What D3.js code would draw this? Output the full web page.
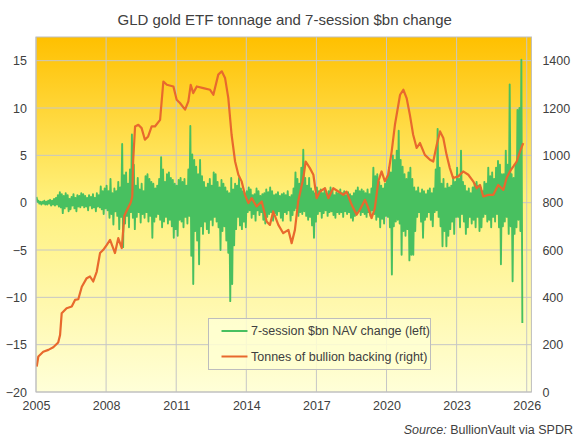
<!DOCTYPE html>
<html>
<head>
<meta charset="utf-8">
<script src="https://cdn.jsdelivr.net/npm/d3@7"></script>
<style>
  body { margin: 0; background: #fff; }
  text { font-family: "Liberation Sans", Arial, sans-serif; fill: #404040; }
</style>
</head>
<body>
<div id="chart"></div>
<script>
// Tonnes of gold backing GLD (right axis)
const tonnesDates = [
  2005.03, 2005.10, 2005.31, 2005.53, 2005.74, 2005.95, 2006.03, 2006.10, 2006.31, 2006.53,
  2006.67, 2006.81, 2006.96, 2007.17, 2007.31, 2007.45, 2007.60, 2007.74, 2007.88, 2008.03,
  2008.17, 2008.38, 2008.52, 2008.67, 2008.78, 2008.90, 2009.05, 2009.12, 2009.16, 2009.24,
  2009.38, 2009.52, 2009.66, 2009.80, 2009.95, 2010.09, 2010.31, 2010.45, 2010.60, 2010.88,
  2011.02, 2011.16, 2011.38, 2011.52, 2011.62, 2011.73, 2011.88, 2012.16, 2012.45, 2012.59,
  2012.80, 2012.95, 2013.09, 2013.23, 2013.37, 2013.52, 2013.66, 2013.80, 2013.94, 2014.09,
  2014.23, 2014.44, 2014.66, 2014.87, 2015.01, 2015.15, 2015.37, 2015.58, 2015.80, 2015.94,
  2016.08, 2016.22, 2016.44, 2016.54, 2016.72, 2016.87, 2017.01, 2017.15, 2017.37, 2017.51,
  2017.72, 2017.94, 2018.15, 2018.29, 2018.51, 2018.72, 2018.86, 2019.08, 2019.22, 2019.36,
  2019.50, 2019.65, 2019.79, 2019.93, 2020.07, 2020.22, 2020.36, 2020.58, 2020.72, 2020.86,
  2021.00, 2021.14, 2021.29, 2021.43, 2021.64, 2021.86, 2022.00, 2022.15, 2022.29, 2022.43,
  2022.57, 2022.71, 2022.85, 2023.07, 2023.28, 2023.50, 2023.71, 2023.86, 2024.00, 2024.14,
  2024.36, 2024.57, 2024.78, 2025.00, 2025.14, 2025.28, 2025.43, 2025.57, 2025.71, 2025.85
];
const tonnesValues = [
  107, 150, 170, 178, 189, 209, 241, 333, 354, 361,
  389, 392, 445, 481, 488, 467, 509, 587, 601, 622,
  643, 587, 650, 608, 745, 770, 800, 826, 981, 1122,
  1129, 1115, 1066, 1080, 1122, 1122, 1150, 1312, 1298, 1291,
  1235, 1221, 1193, 1228, 1298, 1263, 1291, 1284, 1277, 1256,
  1341, 1355, 1327, 1242, 1087, 974, 918, 890, 833, 798,
  819, 784, 805, 720, 706, 763, 706, 671, 685, 629,
  685, 805, 904, 974, 946, 918, 819, 847, 861, 819,
  861, 847, 833, 847, 791, 749, 770, 812, 777, 735,
  777, 890, 932, 890, 918, 1016, 1129, 1256, 1277, 1242,
  1171, 1087, 1031, 1052, 1002, 981, 974, 1045, 1101, 1073,
  1002, 946, 904, 911, 932, 918, 890, 861, 875, 826,
  833, 833, 875, 854, 904, 932, 953, 974, 1016, 1052
];

// 7-session $bn NAV change (left axis): monthly highs and lows
const navYears = [2005, 2006, 2007, 2008, 2009, 2010, 2011, 2012, 2013, 2014, 2015,
                  2016, 2017, 2018, 2019, 2020, 2021, 2022, 2023, 2024, 2025];
const navHigh = [
  [0.6, 0.2, 0.1, 0.1, 0.2, 0.1, 0.2, 0.3, 0.2, 0.4, 0.5, 0.8],
  [1.1, 0.9, 0.7, 1.0, 0.8, 0.4, 0.6, 0.9, 0.5, 0.8, 0.7, 1.0],
  [0.9, 0.7, 0.5, 0.8, 0.6, 0.9, 0.5, 1.0, 0.8, 1.7, 1.2, 1.5],
  [1.8, 1.2, 2.5, 1.0, 1.5, 1.2, 2.2, 1.6, 6.2, 2.9, 3.2, 2.0],
  [3.5, 7.2, 4.0, 1.8, 2.6, 1.4, 2.0, 1.2, 2.8, 3.0, 2.5, 2.2],
  [2.0, 1.5, 1.8, 2.5, 4.8, 3.5, 2.2, 3.0, 3.2, 2.6, 2.4, 2.0],
  [1.8, 2.4, 2.6, 2.2, 2.5, 1.8, 3.5, 8.1, 5.1, 4.5, 3.8, 3.0],
  [4.5, 2.8, 2.2, 1.6, 2.0, 2.5, 1.8, 3.2, 3.0, 2.2, 1.6, 2.4],
  [2.0, 1.6, 1.2, 1.0, 2.6, 1.4, 2.0, 1.8, 2.6, 1.5, 1.2, 1.0],
  [1.2, 1.6, 1.4, 0.8, 0.9, 1.5, 1.2, 0.7, 0.9, 1.0, 1.4, 1.1],
  [1.6, 1.2, 0.8, 0.9, 1.1, 0.7, 0.9, 1.0, 0.8, 1.2, 0.6, 0.8],
  [1.5, 3.2, 2.5, 2.0, 3.7, 5.6, 2.6, 1.8, 2.6, 1.5, 1.2, 1.0],
  [1.6, 1.2, 1.4, 1.0, 1.5, 0.9, 1.2, 1.6, 1.3, 0.8, 1.1, 1.0],
  [1.4, 1.0, 1.2, 0.8, 1.1, 0.9, 0.7, 1.0, 1.3, 1.6, 1.2, 1.4],
  [1.2, 1.0, 1.4, 0.9, 1.5, 3.7, 2.8, 3.0, 2.2, 1.8, 1.5, 2.0],
  [2.5, 3.7, 3.2, 5.0, 4.5, 5.5, 7.6, 4.5, 3.8, 3.0, 2.5, 3.2],
  [3.7, 2.5, 1.6, 1.2, 1.6, 1.0, 1.4, 1.2, 0.9, 1.3, 1.5, 1.0],
  [1.5, 3.5, 7.8, 3.7, 2.0, 2.5, 1.5, 2.0, 1.6, 1.8, 2.6, 2.2],
  [3.7, 2.5, 5.5, 2.2, 1.8, 1.2, 1.5, 1.0, 1.6, 2.0, 2.2, 1.8],
  [1.6, 1.2, 2.2, 2.0, 3.7, 2.8, 3.2, 2.5, 3.7, 4.4, 4.0, 3.0],
  [3.0, 5.5, 4.0, 12.5, 3.0, 2.6, 4.0, 9.8, 10.0, 15.1]
];
const navLow = [
  [0.1, -0.1, -0.2, -0.1, -0.2, -0.2, -0.1, -0.3, -0.2, -0.3, -0.2, -0.4],
  [-0.5, -1.1, -0.6, -0.4, -0.9, -0.7, -0.3, -0.6, -0.9, -0.4, -0.5, -0.3],
  [-0.5, -0.4, -0.8, -0.3, -0.6, -0.5, -0.9, -0.4, -0.5, -0.7, -1.2, -0.6],
  [-0.8, -1.6, -1.2, -2.3, -0.9, -1.4, -2.8, -1.5, -4.7, -2.2, -1.4, -2.6],
  [-1.0, -1.6, -2.8, -1.5, -1.0, -2.1, -1.2, -1.6, -1.0, -2.0, -1.4, -3.7],
  [-2.0, -1.5, -1.2, -1.8, -2.6, -2.0, -1.5, -2.2, -1.8, -2.5, -3.7, -2.8],
  [-3.5, -1.8, -2.0, -2.6, -1.5, -2.2, -1.4, -5.6, -8.6, -3.0, -4.0, -6.5],
  [-2.5, -3.3, -2.0, -2.8, -3.2, -1.8, -2.4, -1.5, -2.0, -2.6, -5.0, -3.0],
  [-2.5, -4.0, -5.3, -10.4, -8.6, -4.5, -2.8, -1.5, -2.4, -2.8, -2.0, -2.6],
  [-1.0, -0.8, -1.6, -1.2, -1.9, -0.8, -1.3, -1.0, -1.8, -2.2, -1.5, -1.2],
  [-1.0, -1.9, -1.1, -1.3, -0.9, -1.6, -1.9, -1.0, -1.2, -0.8, -1.9, -1.3],
  [-0.8, -0.6, -1.4, -1.0, -1.2, -0.9, -1.4, -1.8, -1.5, -2.4, -3.7, -2.0],
  [-1.2, -0.9, -1.6, -1.1, -0.8, -1.4, -1.0, -0.9, -1.3, -1.6, -1.0, -1.2],
  [-1.0, -1.5, -0.9, -1.2, -1.0, -1.6, -1.9, -1.4, -1.1, -0.9, -1.3, -1.0],
  [-1.2, -1.5, -1.0, -1.4, -0.8, -1.2, -1.8, -1.5, -2.6, -1.7, -2.2, -1.4],
  [-1.5, -2.6, -7.6, -2.5, -2.0, -1.8, -2.2, -5.5, -3.0, -3.5, -2.8, -6.1],
  [-5.5, -5.5, -3.0, -1.5, -1.0, -2.0, -3.7, -1.8, -1.5, -1.0, -1.8, -2.5],
  [-1.0, -0.8, -1.5, -2.5, -4.6, -3.0, -4.6, -3.5, -2.8, -2.0, -3.3, -1.5],
  [-1.5, -2.6, -1.2, -2.0, -3.3, -2.6, -1.5, -2.2, -1.8, -2.6, -1.5, -3.0],
  [-2.6, -1.5, -1.2, -2.0, -1.8, -2.6, -1.5, -2.0, -1.2, -2.6, -6.5, -2.5],
  [-2.0, -1.5, -3.3, -2.5, -8.3, -3.3, -2.6, -1.8, -3.0, -12.7]
];

// Axis ticks
const xTicks = [2005, 2008, 2011, 2014, 2017, 2020, 2023, 2026];
const leftTicks = [-20, -15, -10, -5, 0, 5, 10, 15];
const rightTicks = [0, 200, 400, 600, 800, 1000, 1200, 1400];

const drawChart = () => {

  /****************************/
  /*        Dimensions        */
  /****************************/
  const width = 578;
  const height = 440;
  const margin = {top: 37, right: 46.6, bottom: 48, left: 36};
  const innerWidth = width - margin.left - margin.right;
  const innerHeight = height - margin.top - margin.bottom;

  const svg = d3.select("#chart")
    .append("svg")
      .attr("width", width)
      .attr("height", height);

  // Background gradient of the plot area
  const defs = svg.append("defs");
  const grad = defs.append("linearGradient")
      .attr("id", "bg")
      .attr("x1", 0).attr("y1", 0).attr("x2", 0).attr("y2", 1);
  grad.append("stop").attr("offset", "0%").attr("stop-color", "#FFC000");
  grad.append("stop").attr("offset", "45%").attr("stop-color", "#FFF07A");
  grad.append("stop").attr("offset", "100%").attr("stop-color", "#FFFFD8");

  defs.append("clipPath").attr("id", "clip")
    .append("rect").attr("width", innerWidth).attr("height", innerHeight);

  // Title
  svg.append("text")
      .attr("x", margin.left + innerWidth / 2 + 1)
      .attr("y", 25)
      .attr("text-anchor", "middle")
      .style("font-size", "15px")
      .text("GLD gold ETF tonnage and 7-session $bn change");

  const innerChart = svg.append("g")
      .attr("transform", `translate(${margin.left}, ${margin.top})`);

  innerChart.append("rect")
      .attr("width", innerWidth)
      .attr("height", innerHeight)
      .attr("fill", "url(#bg)");

  /****************************/
  /*          Scales          */
  /****************************/
  const xScale = d3.scaleLinear()
    .domain([2005, 2026.2])
    .range([0, innerWidth]);
  const yLeft = d3.scaleLinear()
    .domain([-20, 17.5])
    .range([innerHeight, 0]);
  const yRight = d3.scaleLinear()
    .domain([0, 1500])
    .range([innerHeight, 0]);

  /****************************/
  /*        Grid lines        */
  /****************************/
  const gridColour = "#C6C6C6";
  innerChart.append("g")
    .selectAll("line")
    .data(leftTicks)
    .join("line")
      .attr("x1", 0)
      .attr("x2", innerWidth)
      .attr("y1", d => yLeft(d))
      .attr("y2", d => yLeft(d))
      .attr("stroke", gridColour);
  innerChart.append("g")
    .selectAll("line")
    .data(xTicks)
    .join("line")
      .attr("x1", d => xScale(d))
      .attr("x2", d => xScale(d))
      .attr("y1", 0)
      .attr("y2", innerHeight)
      .attr("stroke", gridColour);

  /****************************/
  /*          Series          */
  /****************************/
  const navData = [];
  navYears.forEach((yr, i) => {
    navHigh[i].forEach((hi, m) => {
      navData.push({t: yr + (m + 0.25) / 12, v: hi});
      navData.push({t: yr + (m + 0.75) / 12, v: navLow[i][m]});
    });
  });
  const tonnesData = tonnesDates.map((t, i) => ({t: t, v: tonnesValues[i]}));

  const plot = innerChart.append("g").attr("clip-path", "url(#clip)");

  const navLine = d3.line()
    .x(d => xScale(d.t))
    .y(d => yLeft(d.v));
  plot.append("path")
      .datum(navData)
      .attr("d", navLine)
      .attr("fill", "none")
      .attr("stroke", "#48C060")
      .attr("stroke-width", 1.9)
      .attr("stroke-linejoin", "round");

  const tonnesLine = d3.line()
    .x(d => xScale(d.t))
    .y(d => yRight(d.v));
  plot.append("path")
      .datum(tonnesData)
      .attr("d", tonnesLine)
      .attr("fill", "none")
      .attr("stroke", "#E8692D")
      .attr("stroke-width", 2.2)
      .attr("stroke-linejoin", "round");

  // Plot border
  innerChart.append("rect")
      .attr("width", innerWidth)
      .attr("height", innerHeight)
      .attr("fill", "none")
      .attr("stroke", "#BDBDBD");

  /****************************/
  /*           Axes           */
  /****************************/
  const bottomAxis = d3.axisBottom(xScale)
    .tickValues(xTicks)
    .tickFormat(d3.format("d"))
    .tickSize(0)
    .tickPadding(9);
  innerChart.append("g")
      .attr("transform", `translate(0, ${innerHeight})`)
      .call(bottomAxis)
      .call(g => g.select(".domain").remove())
      .selectAll("text")
        .style("font-size", "12.5px");

  const leftAxis = d3.axisLeft(yLeft)
    .tickValues(leftTicks)
    .tickSize(0)
    .tickPadding(9);
  innerChart.append("g")
      .call(leftAxis)
      .call(g => g.select(".domain").remove())
      .selectAll("text")
        .style("font-size", "12.5px");

  const rightAxis = d3.axisRight(yRight)
    .tickValues(rightTicks)
    .tickFormat(d3.format("d"))
    .tickSize(0)
    .tickPadding(11);
  innerChart.append("g")
      .attr("transform", `translate(${innerWidth}, 0)`)
      .call(rightAxis)
      .call(g => g.select(".domain").remove())
      .selectAll("text")
        .style("font-size", "12.5px");

  d3.selectAll(".tick text").attr("fill", "#404040");

  /****************************/
  /*          Legend          */
  /****************************/
  const legend = svg.append("g")
      .attr("transform", "translate(208.5, 318.5)");
  legend.append("rect")
      .attr("width", 222)
      .attr("height", 51)
      .attr("fill", "#FFFFD2")
      .attr("fill-opacity", 0.85)
      .attr("stroke", "#BDBDBD");
  const legendItems = [
    {label: "7-session $bn NAV change (left)", colour: "#48C060"},
    {label: "Tonnes of bullion backing (right)", colour: "#E8692D"}
  ];
  legend.selectAll("g")
    .data(legendItems)
    .join("g")
      .attr("transform", (d, i) => `translate(0, ${12.5 + i * 25.5})`)
      .each(function(d) {
        const g = d3.select(this);
        g.append("line")
          .attr("x1", 13).attr("x2", 39)
          .attr("stroke", d.colour)
          .attr("stroke-width", 2);
        g.append("text")
          .attr("x", 42.5)
          .attr("dy", "0.35em")
          .style("font-size", "12.5px")
          .text(d.label);
      });

  // Source note
  const source = svg.append("text")
      .attr("x", 573)
      .attr("y", 434)
      .attr("text-anchor", "end")
      .style("font-size", "12.5px");
  source.append("tspan").style("font-style", "italic").text("Source:");
  source.append("tspan").text(" BullionVault via SPDR");
};

drawChart();
</script>
</body>
</html>
